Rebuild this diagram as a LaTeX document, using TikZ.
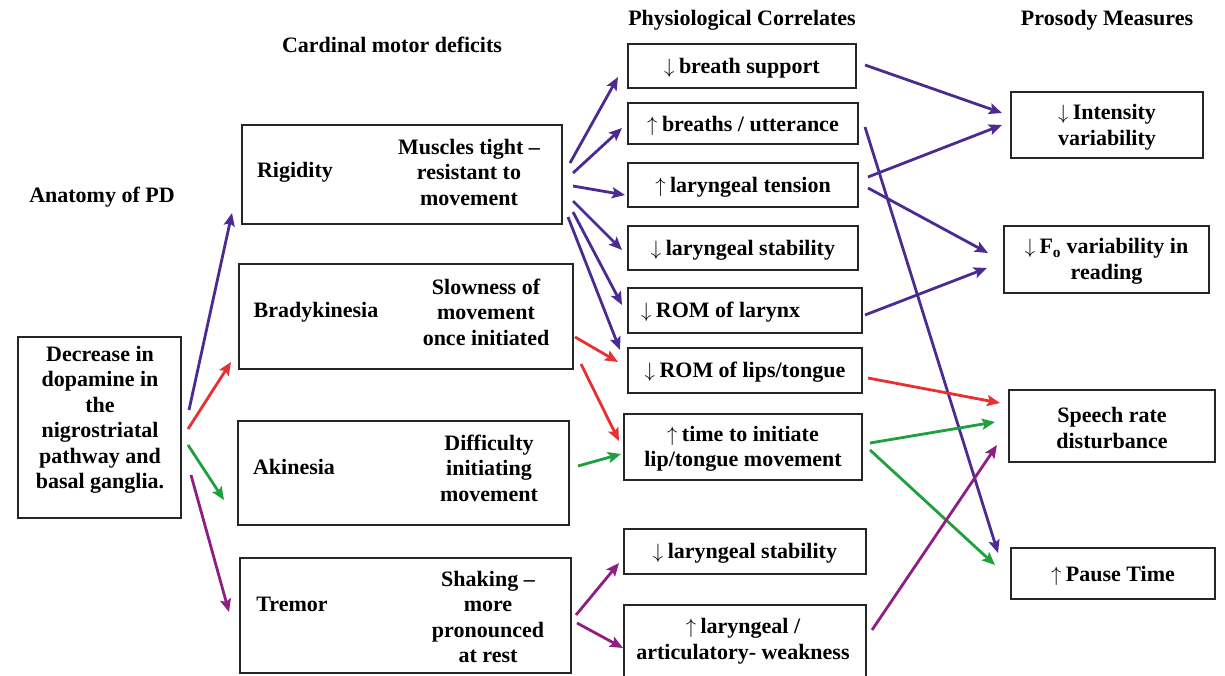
\documentclass[tikz,border=0pt]{standalone}
\usepackage{fontspec}
\setmainfont{Liberation Serif}
\usetikzlibrary{arrows.meta,calc}
\definecolor{cpur}{RGB}{75,42,145}
\definecolor{cred}{RGB}{232,48,50}
\definecolor{cgrn}{RGB}{30,160,60}
\definecolor{cmag}{RGB}{142,30,130}
\newcommand{\up}{$\uparrow$\hspace{0.2em}}
\newcommand{\dn}{$\downarrow$\hspace{0.2em}}
\tikzset{
  every node/.style={font=\fontsize{22}{25.5}\selectfont\bfseries},
  box/.style={draw=black!85,line width=1.1pt,anchor=north west,inner sep=0pt,outer sep=0pt},
  txt/.style={align=center,inner sep=0pt},
  mtxt/.style={txt,yshift=-2pt},
  conn/.style={line width=2.8pt,-{Stealth[length=13pt,width=11pt,inset=2.5pt]}},
  pur/.style={conn,cpur},
  red/.style={conn,cred},
  grn/.style={conn,cgrn},
  mag/.style={conn,cmag}
}
\newcommand{\bx}[5]{\node[box,minimum width=#4-#2,minimum height=#5-#3] (#1) at (#2,#3) {};}
\begin{document}
\begin{tikzpicture}[x=1pt,y=-1pt]
\useasboundingbox (0,0) rectangle (1225,676);
% headers
\node[txt] (h1) at (102,197) {Anatomy of PD};
\node[txt] (h2) at (392,45) {Cardinal motor deficits};
\node[txt] (h3) at (742,20) {Physiological Correlates};
\node[txt] (h4) at (1107,20) {Prosody Measures};
% boxes
\bx{dop}{18}{337}{181}{518}
\bx{rig}{242}{125}{562}{224}
\bx{bra}{239}{264}{573}{369}
\bx{aki}{238}{421}{569}{525}
\bx{tre}{240}{558}{571}{673}
\bx{bs}{628}{44}{856}{88}
\bx{bu}{628}{103}{858}{144}
\bx{lt}{628}{163}{858}{207}
\bx{ls}{628}{226}{858}{270}
\bx{rl}{628}{288}{862}{333}
\bx{rlt}{628}{348}{862}{393}
\bx{tti}{624}{414}{862}{480}
\bx{lsb}{624}{529}{866}{574}
\bx{law}{624}{605}{866}{678}
\bx{iv}{1011}{92}{1203}{158}
\bx{fo}{1004}{226}{1209}{293}
\bx{sr}{1009}{390}{1215}{462}
\bx{pt}{1011}{548}{1215}{599}
% texts
\node[txt] (t-dop) at (100,420) {Decrease in\\dopamine in\\the\\nigrostriatal\\pathway and\\basal ganglia.};
\node[txt] (t-rig1) at (295,172) {Rigidity};
\node[txt] (t-rig2) at (469,172) {Muscles tight --\\resistant to\\movement};
\node[txt] (t-bra1) at (316,312) {Bradykinesia};
\node[txt] (t-bra2) at (486,312) {Slowness of\\movement\\once initiated};
\node[txt] (t-aki1) at (294,467) {Akinesia};
\node[txt] (t-aki2) at (489,468) {Difficulty\\initiating\\movement};
\node[txt] (t-tre1) at (292,604) {Tremor};
\node[txt] (t-tre2) at (488,617) {Shaking --\\more\\pronounced\\at rest};
\node[mtxt] at (bs.center) {\dn breath support};
\node[mtxt] at (bu.center) {\up breaths / utterance};
\node[mtxt] at (lt.center) {\up laryngeal tension};
\node[mtxt] at (ls.center) {\dn laryngeal stability};
\node[mtxt,anchor=west] at ($(rl.west)+(13,0)$) {\dn ROM of larynx};
\node[mtxt] at (rlt.center) {\dn ROM of lips/tongue};
\node[mtxt] at (tti.center) {\up time to initiate\\lip/tongue movement};
\node[mtxt] at (lsb.center) {\dn laryngeal stability};
\node[txt] at (743,641) {\up laryngeal /\\articulatory- weakness};
\node[mtxt] at (iv.center) {\dn Intensity\\variability};
\node[mtxt] at (fo.center) {\dn F\textsubscript{o} variability in\\reading};
\node[mtxt] at (sr.center) {Speech rate\\disturbance};
\node[mtxt] at (pt.center) {\up Pause Time};
% connectors from dopamine box
\draw[pur] ($(dop.east)+(8,-17.5)$) -- ($(rig.south west)+(-10,-11)$);
\draw[red] ($(dop.east)+(7,1.5)$) -- ($(bra.south west)+(-8,-7)$);
\draw[grn] ($(dop.east)+(7,17.5)$) -- ($(aki.west)+(-14,27)$);
\draw[mag] ($(dop.east)+(10,47.5)$) -- ($(tre.west)+(-11,-3.5)$);
% rigidity
\draw[pur] ($(rig.east)+(8,-11.5)$) -- ($(bs.west)+(-10,11)$);
\draw[pur] ($(rig.east)+(11,-1.5)$) -- ($(bu.west)+(-6,4.5)$);
\draw[pur] ($(rig.east)+(11,11.5)$) -- ($(lt.west)+(-3,10)$);
\draw[pur] ($(rig.east)+(11,26.5)$) -- ($(ls.west)+(-6,2)$);
\draw[pur] ($(rig.east)+(11,37.5)$) -- ($(rl.west)+(-6,-5.5)$);
\draw[pur] ($(rig.east)+(6,42.5)$) -- ($(rlt.west)+(-8,-20.5)$);
% bradykinesia
\draw[red] ($(bra.east)+(2,20.5)$) -- ($(rlt.west)+(-10,-8.5)$);
\draw[red] ($(bra.east)+(8,47.5)$) -- ($(tti.west)+(-5,-6)$);
% akinesia
\draw[grn] ($(aki.east)+(9,-7)$) -- ($(tti.west)+(-3,7)$);
% tremor
\draw[mag] ($(tre.east)+(5,-0.5)$) -- ($(lsb.west)+(-5,11.5)$);
\draw[mag] ($(tre.east)+(6,7.5)$) -- ($(law.west)+(-1,6.5)$);
% to prosody measures
\draw[pur] ($(bs.east)+(9,-1)$) -- ($(iv.west)+(-9,-12)$);
\draw[pur] ($(lt.east)+(10,-8)$) -- ($(iv.west)+(-9,0)$);
\draw[pur] ($(lt.east)+(10,3)$) -- ($(fo.west)+(-16,-6.5)$);
\draw[pur] ($(rl.east)+(3,4.5)$) -- ($(fo.west)+(-17,8.5)$);
\draw[pur] ($(bu.east)+(7,3.5)$) -- ($(pt.west)+(-13,-20.5)$);
\draw[red] ($(rlt.east)+(6,7.5)$) -- ($(sr.west)+(-9,-23)$);
\draw[grn] ($(tti.east)+(8,-4)$) -- ($(sr.west)+(-14,-4)$);
\draw[grn] ($(tti.east)+(8,3)$) -- ($(pt.west)+(-16,-8.5)$);
\draw[mag] ($(law.east)+(6,-11.5)$) -- ($(sr.west)+(-12,19)$);
\end{tikzpicture}
\end{document}
